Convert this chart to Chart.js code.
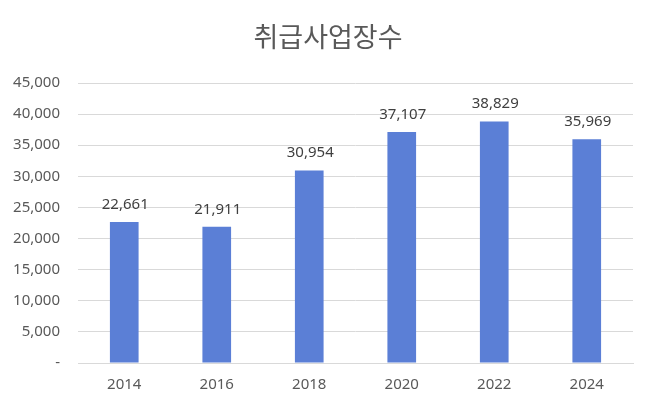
<!DOCTYPE html>
<html><head><meta charset="utf-8">
<script src="https://cdn.jsdelivr.net/npm/chart.js@4"></script>
<style>html,body{margin:0;padding:0;background:#fff}#wrap{width:650px;height:410px}</style>
</head><body><div id="wrap"><canvas id="c"></canvas></div>
<script>
const categories = ['2014','2016','2018','2020','2022','2024'];
const values = [22661, 21911, 30954, 37107, 38829, 35969];
const yTicks = [0,5000,10000,15000,20000,25000,30000,35000,40000,45000];
const titleText = '취급사업장수';

const fmt = v => v === 0 ? '-' : v.toLocaleString('en-US');

const labelPlugin = {
  id: 'barLabels',
  afterDatasetsDraw(chart) {
    const ctx = chart.ctx;
    const meta = chart.getDatasetMeta(0);
    ctx.save();
    ctx.font = '15px "Noto Sans", sans-serif';
    ctx.fillStyle = '#404040';
    ctx.textAlign = 'center';
    ctx.textBaseline = 'alphabetic';
    meta.data.forEach((bar, i) => {
      ctx.fillText(fmt(values[i]), bar.x + 1, bar.y - 13);
    });
    // chart title, centred on the canvas (slightly right of middle, as in the reference)
    ctx.font = '27px "Noto Sans CJK KR", sans-serif';
    ctx.fillStyle = '#595959';
    ctx.textBaseline = 'middle';
    ctx.fillText(titleText, chart.width / 2 + 3, 37);
    ctx.restore();
  }
};

new Chart(document.getElementById('c'), {
  type: 'bar',
  data: {
    labels: categories,
    datasets: [{
      data: values,
      backgroundColor: '#5b7fd6',
      barPercentage: 0.31,
      categoryPercentage: 1.0
    }]
  },
  options: {
    responsive: true,
    maintainAspectRatio: false,
    animation: false,
    layout: { padding: { left: 8, right: 17, top: 83, bottom: 0 } },
    plugins: {
      legend: { display: false },
      tooltip: { enabled: false },
      title: { display: false }
    },
    scales: {
      x: {
        grid: { display: false, drawTicks: false },
        border: { display: true, color: '#d9d9d9' },
        afterFit(axis) { axis.height = 47; },
        ticks: { color: '#595959', font: { family: '"Noto Sans", sans-serif', size: 15 }, padding: 13 }
      },
      y: {
        min: 0, max: 45000,
        afterBuildTicks(axis) { axis.ticks = yTicks.map(v => ({ value: v })); },
        afterFit(axis) { axis.width = 70; },
        grid: { color: '#d9d9d9', drawTicks: false },
        border: { display: false },
        ticks: { color: '#595959', font: { family: '"Noto Sans", sans-serif', size: 15 }, padding: 18, callback: v => fmt(v) }
      }
    }
  },
  plugins: [labelPlugin]
});
</script>
</body></html>
